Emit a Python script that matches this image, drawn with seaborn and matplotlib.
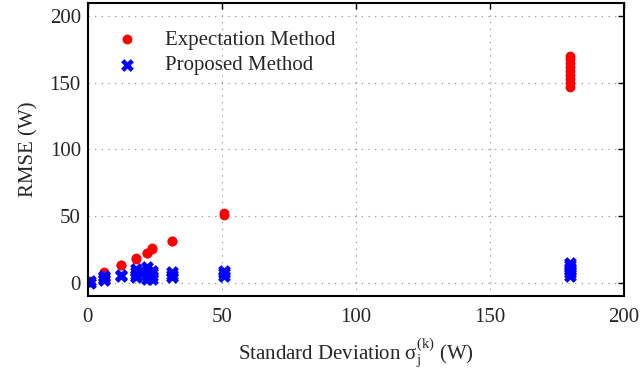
import matplotlib
matplotlib.use("Agg")
import matplotlib.pyplot as plt
import seaborn as sns
import pandas as pd

# RMSE (W), grouped by standard deviation level
expectation_sigma = [1, 1, 6, 6, 12.5, 12.5, 18, 18, 22, 22, 24, 24, 31.5, 31.5, 51, 51,
                     180, 180, 180, 180, 180, 180, 180, 180, 180]
expectation_rmse = [0.5, 0.8, 7.5, 8, 13, 13.5, 18, 18.5, 22, 22.5, 25, 26, 31, 31.5, 51, 52,
                    147, 150, 153, 156, 159, 162, 165, 168, 170]

proposed_sigma = [1, 1, 6, 6, 6, 6, 12.5, 12.5, 18, 18, 18, 18, 22, 22, 22, 22,
                  24, 24, 24, 24, 31.5, 31.5, 31.5, 51, 51, 51,
                  180, 180, 180, 180, 180, 180]
proposed_rmse = [0, 1, 2, 3, 4, 5, 5, 5.5, 4, 6, 8, 10, 3, 6, 9, 12,
                 3, 5, 7, 9, 4.5, 6, 8, 5, 7, 9,
                 5, 7, 9, 11, 13, 14.5]

methods = ["Expectation Method", "Proposed Method"]

df_exp = pd.DataFrame({"sigma": expectation_sigma, "rmse": expectation_rmse, "method": methods[0]})
df_prop = pd.DataFrame({"sigma": proposed_sigma, "rmse": proposed_rmse, "method": methods[1]})

sns.set_style("white")
plt.rcParams["font.family"] = ["Liberation Serif", "DejaVu Serif"]
plt.rcParams["mathtext.fontset"] = "custom"
plt.rcParams["mathtext.rm"] = "Liberation Serif"
plt.rcParams["mathtext.it"] = "Liberation Serif:italic"

fig = plt.figure(figsize=(6.41, 3.75), dpi=100)
ax = fig.add_axes([0.137, 0.211, 0.836, 0.781])

sns.scatterplot(data=df_exp, x="sigma", y="rmse", color="#ff0000", marker="o",
                s=50, linewidth=0, label=methods[0], ax=ax)
sns.scatterplot(data=df_prop, x="sigma", y="rmse", color="#0000ff", marker="X",
                s=85, linewidth=0, label=methods[1], ax=ax)

ax.set_xlim(0, 200)
ax.set_ylim(-10, 210)
ax.set_xticks([0, 50, 100, 150, 200])
ax.set_yticks([0, 50, 100, 150, 200])
ax.grid(True, linestyle=(0, (1, 5)), color="#808080", linewidth=0.8)
ax.tick_params(direction="in", length=4, width=1, labelsize=15,
               top=True, right=True, color="black")
ax.tick_params(axis="x", pad=9)
ax.tick_params(axis="y", pad=5)
for sp in ax.spines.values():
    sp.set_color("black")
    sp.set_linewidth(1.5)

ax.set_xlabel(r"Standard Deviation $\mathrm{\sigma_j^{(k)}}$ (W)", fontsize=15, labelpad=6)
ax.set_ylabel("RMSE (W)", fontsize=15, labelpad=8)

ax.legend(loc="upper left", bbox_to_anchor=(0.0, 0.972), frameon=False,
          fontsize=15, handletextpad=0.8, labelspacing=0.3, markerscale=1.0)

fig.savefig("out.png", dpi=100)
